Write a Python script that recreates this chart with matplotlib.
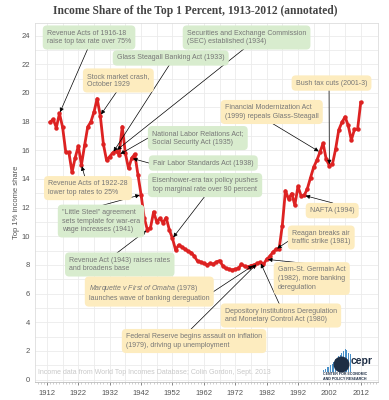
import numpy as np
import matplotlib.pyplot as plt
from matplotlib.ticker import MultipleLocator

years = np.arange(1913, 2013)
share = [17.96, 18.16, 17.58, 18.57, 17.60, 15.88, 15.85, 14.46, 15.47, 16.29,
         14.98, 16.34, 17.63, 17.98, 18.67, 19.60, 18.42, 16.42, 15.30, 15.56,
         15.83, 15.97, 15.69, 17.65, 15.78, 14.73, 15.44, 15.73, 14.30, 12.90,
         11.30, 10.45, 10.60, 11.70, 11.00, 11.25, 10.95, 11.30, 10.45, 9.85,
         9.05, 9.39, 9.25, 9.10, 8.95, 8.85, 8.60, 8.25, 8.20, 8.10,
         8.00, 8.10, 8.05, 8.20, 8.30, 7.95, 7.75, 7.70, 7.65, 7.70,
         7.75, 8.05, 7.90, 7.85, 7.95, 8.00, 8.10, 8.18, 8.03, 8.39,
         8.59, 8.89, 9.09, 9.13, 10.75, 13.17, 12.61, 12.98, 12.17, 13.48,
         12.82, 12.85, 13.33, 14.09, 14.82, 15.29, 15.87, 16.49, 15.37, 14.93,
         15.05, 16.09, 17.42, 17.95, 18.33, 17.74, 16.71, 17.45, 17.47, 19.34]

x_ticks = list(range(1912, 2013, 10))
y_ticks = list(range(0, 25, 2))

GREEN = "#d8ecce"
YELLOW = "#fdecbf"

# label text, text position, arrow start, year the arrow points at, box colour, alignment
notes = [
    ("Revenue Acts of 1916-18\nraise top tax rate over 75%", (1912.0, 23.87), (1925.1, 23.13), 1916, GREEN, "left"),
    ("Glass Steagall Banking Act (1933)", (1934.3, 22.44), (1951.2, 22.02), 1933, GREEN, "left"),
    ("Securities and Exchange Commission\n(SEC) established (1934)", (1956.6, 23.87), (1975.1, 23.13), 1934, GREEN, "left"),
    ("Stock market crash,\nOctober 1929", (1924.8, 20.87), (1934.3, 20.11), 1929, YELLOW, "left"),
    ("Bush tax cuts (2001-3)", (1991.3, 20.69), (2001.9, 20.27), 2002, YELLOW, "left"),
    ("Financial Modernization Act\n(1999) repeals Glass-Steagall", (1968.7, 18.67), (1983.7, 17.89), 1999, YELLOW, "left"),
    ("National Labor Relations Act;\nSocial Security Act (1935)", (1945.5, 16.85), (1944.2, 16.85), 1935, GREEN, "left"),
    ("Fair Labor Standards Act (1938)", (1945.8, 15.11), (1944.5, 15.11), 1939, GREEN, "left"),
    ("Revenue Acts of 1922-28\nlower top rates to 25%", (1912.4, 13.36), (1924.1, 14.13), 1923, YELLOW, "left"),
    ("Eisenhower-era tax policy pushes\ntop marginal rate over 90 percent", (1962.4, 13.57), (1962.4, 12.81), 1952, GREEN, "center"),
    ("\"Little Steel\" agreement\nsets template for war-era\nwage increases (1941)", (1916.8, 11.06), (1928.9, 12.11), 1942, GREEN, "left"),
    ("Revenue Act (1943) raises rates\nand broadens base", (1919.1, 8.03), (1934.3, 8.83), 1944, GREEN, "left"),
    ("$\\it{Marquette\\ v\\ First\\ of\\ Omaha}$ (1978)\nlaunches wave of banking dereguation", (1925.4, 6.07), (1964.9, 6.11), 1978, YELLOW, "left"),
    ("Garn-St. Germain Act\n(1982), more banking\nderegulation", (1985.6, 7.05), (1996.4, 8.06), 1982, YELLOW, "left"),
    ("Depository Institutions Deregulation\nand Monetary Control Act (1980)", (1968.7, 4.47), (1986.2, 5.20), 1980, YELLOW, "left"),
    ("Federal Reserve begins assault on inflation\n(1979), driving up unemployment", (1937.2, 2.69), (1957.6, 3.45), 1979, YELLOW, "left"),
    ("Reagan breaks air\ntraffic strike (1981)", (1990.1, 9.91), (1989.4, 9.73), 1985, YELLOW, "left"),
    ("NAFTA (1994)", (1995.8, 11.79), (2003.1, 12.32), 1994, YELLOW, "left"),
]

plt.rcParams['font.family'] = ['Liberation Sans', 'DejaVu Sans']
plt.rcParams['mathtext.fontset'] = 'custom'
plt.rcParams['mathtext.rm'] = 'Liberation Sans'
plt.rcParams['mathtext.it'] = 'Liberation Sans:italic'

fig = plt.figure(figsize=(3.89, 4.0), dpi=100)
ax = fig.add_axes([35 / 389, 1 - 382 / 400, 343 / 389, 359 / 400])

ax.set_xlim(1908.2, 2017.5)
ax.set_ylim(-0.17, 24.88)

for xv in range(1912, 2017, 5):
    ax.axvline(xv, color="#ebebeb", lw=0.6, zorder=0)
ax.yaxis.set_minor_locator(MultipleLocator(1))
ax.grid(axis="y", which="both", color="#ebebeb", lw=0.6, zorder=0)
ax.set_axisbelow(True)

ax.set_xticks(x_ticks)
ax.set_yticks(y_ticks)
ax.xaxis.set_minor_locator(MultipleLocator(1))
ax.tick_params(axis="both", which="major", labelsize=5.5, colors="#555555", length=2, width=0.5)
ax.tick_params(axis="x", which="minor", length=1.5, width=0.4, colors="#aaaaaa")
ax.tick_params(axis="y", which="minor", length=0)
ax.tick_params(axis="y", which="major", length=0, pad=3.5)
for s in ax.spines.values():
    s.set_color("#dddddd")
    s.set_linewidth(0.6)
ax.spines["bottom"].set_color("#bbbbbb")

ax.set_ylabel("Top 1% income share", fontsize=5.5, color="#555555", labelpad=1.5)

ax.plot(years, share, color="#dd2222", lw=2.0, marker="o", ms=2.2, zorder=3)

lookup = dict(zip(years, share))
for text, pos, start, target, col, ha in notes:
    ax.annotate("", xy=(target, lookup[target]), xytext=start,
                arrowprops=dict(arrowstyle="-|>", color="black", lw=0.5,
                                mutation_scale=6, shrinkA=0, shrinkB=1), zorder=4)
    ax.text(pos[0], pos[1], text, fontsize=5.0, color="#777777", ha=ha, va="center",
            multialignment=ha, linespacing=1.35, zorder=5,
            bbox=dict(boxstyle="round,pad=0.6,rounding_size=0.6", fc=col, ec="none"))

ax.text(1909.2, 0.52, "Income data from World Top Incomes Database; Colin Gordon, Sept. 2013",
        fontsize=5.0, color="#c8c8c8", ha="left", va="center")

fig.text(195 / 389, 1 - 11 / 400, "Income Share of the Top 1 Percent, 1913-2012 (annotated)",
         family="Liberation Serif", weight="bold", fontsize=8.3, color="#444444",
         ha="center", va="center")

# small CEPR logo
logo_bars = [2, 3, 4, 4, 6, 7, 9, 11, 12, 14, 15, 17, 18, 20, 19, 17, 16]
lax = fig.add_axes([323 / 389, 1 - 372 / 400, 28 / 389, 24 / 400])
lax.bar(range(len(logo_bars)), logo_bars, width=0.6, color="#4a90c8")
lax.scatter([10.5], [7], s=110, color="#1d2d44", zorder=3)
lax.set_xlim(-0.5, len(logo_bars) - 0.5)
lax.set_ylim(0, 21)
lax.axis("off")
fig.text(351 / 389, 1 - 361 / 400, "cepr", fontsize=7.5, weight="bold", color="#1d2d44",
         ha="left", va="center")
fig.text(323 / 389, 1 - 376.5 / 400, "CENTER FOR ECONOMIC\nAND POLICY RESEARCH", fontsize=2.6,
         weight="bold", color="#1d2d44", ha="left", va="center", linespacing=1.1)

fig.savefig("out.png", dpi=100, facecolor="white")
